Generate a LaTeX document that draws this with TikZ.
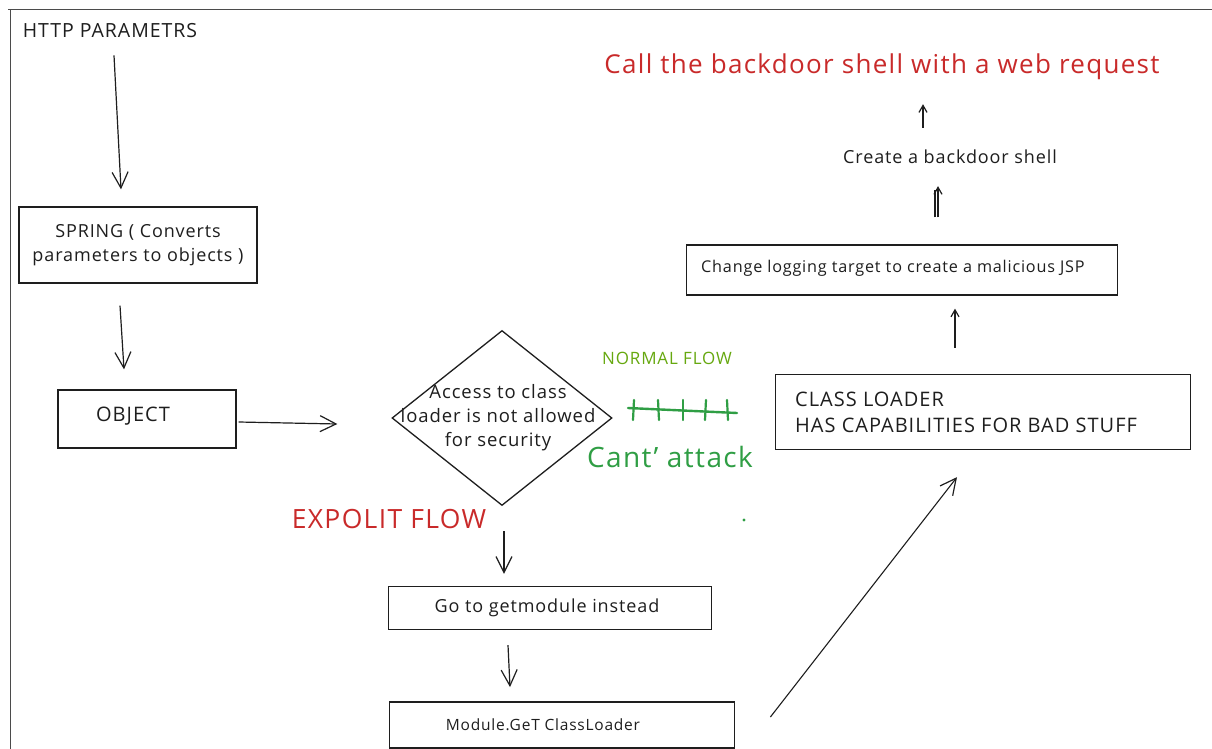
\documentclass[tikz,border=0pt]{standalone}
\usepackage{fontspec}
\setmainfont{Open Sans}[LetterSpace=5]
\usetikzlibrary{arrows.meta,shapes.geometric}
\definecolor{ink}{HTML}{1E1E1E}
\definecolor{exred}{HTML}{C92A2A}
\definecolor{exgreen}{HTML}{2F9E44}
\definecolor{exolive}{HTML}{66A80F}
\newcommand{\fs}[1]{\fontsize{#1}{\fpeval{#1*1.3}}\selectfont}
\begin{document}
\begin{tikzpicture}[x=1pt,y=-1pt,
  box/.style={draw=ink, line width=1.3pt, inner sep=0pt},
  txt/.style={inner sep=0pt, text=ink, font=\fs{15}},
  arr/.style={draw=ink, line width=1.2pt, -{Straight Barb[length=16pt,width=16pt,line width=1.2pt]}},
  sarr/.style={draw=ink, line width=1.2pt, -{Straight Barb[length=7pt,width=8pt,line width=1.2pt]}}]
\useasboundingbox (0,0) rectangle (1212,749);
\fill[white] (0,0) rectangle (1212,749);
% frame
\draw[line width=1pt, ink!80] (8,10) -- (1212,10);
\draw[line width=1pt, ink!80] (10,10) -- (10,749);

% nodes
\node[txt, font=\fs{19.5}] (http) at (110,31) {HTTP PARAMETRS};
\node[box, minimum width=238pt, minimum height=76pt, align=center, font=\fs{18}, text=ink] (spring) at (138,245) {SPRING ( Converts\\parameters to objects )};
\node[box, minimum width=178pt, minimum height=58pt, font=\fs{20}, text=ink] (object) at (147,419) {\hspace*{-28pt}\raisebox{10pt}{OBJECT}};
\node[draw=ink, line width=1.3pt, diamond, minimum width=220pt, minimum height=175pt, inner sep=0pt] (dia) at (502,418) {};
\node[txt, align=center, font=\fs{18.5}] (diatext) at (498,418) {Access to class\\loader is not allowed\\for security};
\node[txt, font=\fs{17}, text=exolive] (normal) at (667,358) {NORMAL FLOW};
\coordinate (strikeA) at (628,408);
\coordinate (strikeB) at (737,413);
\node[txt, font=\fs{28}, text=exgreen] (cant) at (670,457) {Cant' attack};
\node[txt, font=\fs{26.5}, text=exred] (exploit) at (389,519) {EXPOLIT FLOW};
\node[box, minimum width=323pt, minimum height=43pt, font=\fs{18}, text=ink] (getmod) at (550,608) {\hspace*{-6pt}Go to getmodule instead};
\node[box, line width=1.8pt, minimum width=345pt, minimum height=46pt, font=\fs{15.5}, text=ink] (module) at (562,725) {\hspace*{-38pt}Module.GeT ClassLoader};
\node[box, minimum width=415pt, minimum height=75pt] (cls) at (983,412) {};
\node[txt, anchor=west, align=left, font=\fs{20}] (clstext) at (795,412) {CLASS LOADER\\HAS CAPABILITIES FOR BAD STUFF};
\node[box, minimum width=431pt, minimum height=50pt] (change) at (902,270) {};
\node[txt, anchor=west, font=\fs{16.2}] (changetext) at (701,268) {Change logging target to create a malicious JSP};
\node[txt, font=\fs{18}] (create) at (950,157) {Create a backdoor shell};
\node[txt, font=\fs{26}, text=exred] (call) at (882,67) {Call the backdoor shell with a web request};

% connectors
\draw[arr] ([xshift=4pt,yshift=-17pt]http.south) -- ([xshift=-17pt,yshift=17pt]spring.north);
\draw[arr] ([xshift=-18pt,yshift=-22pt]spring.south) -- ([xshift=-23pt,yshift=20pt]object.north);
\draw[arr] ([xshift=2pt,yshift=-3pt]object.east) -- ([xshift=-54pt,yshift=-6pt]dia.west);
\draw[arr] ([xshift=2pt,yshift=-25pt]dia.south) -- ([xshift=-46pt,yshift=12pt]getmod.north);
\draw[arr] ([xshift=-42pt,yshift=-15pt]getmod.south) -- ([xshift=-52pt,yshift=14pt]module.north);
\draw[arr, line width=1.1pt] ([xshift=35pt,yshift=8pt]module.east) -- ([xshift=-26pt,yshift=-27pt]cls.south);
\draw[sarr] ([xshift=-28pt,yshift=26pt]cls.north) -- ([xshift=53pt,yshift=-13pt]change.south);
\draw[sarr] ([xshift=36pt,yshift=27pt]change.north) -- ([xshift=-12pt,yshift=-22pt]create.south);
\draw[ink, line width=1.2pt] ([xshift=33pt,yshift=27pt]change.north) -- ([xshift=-15pt,yshift=-26pt]create.south);
\draw[sarr] ([xshift=-27pt,yshift=22pt]create.north) -- ([xshift=41pt,yshift=-24pt]call.south);

% strike-through mark
\draw[exgreen, line width=2.4pt, line cap=round] (strikeA) -- (strikeB);
\foreach \x/\d in {634/-1,658/1,683/0,706/-1,727/1}
  \draw[exgreen, line width=2.2pt, line cap=round] (\x,400) -- (\x+\d,420);
\fill[exgreen] (744,520) circle (1.7pt);
\end{tikzpicture}
\end{document}
